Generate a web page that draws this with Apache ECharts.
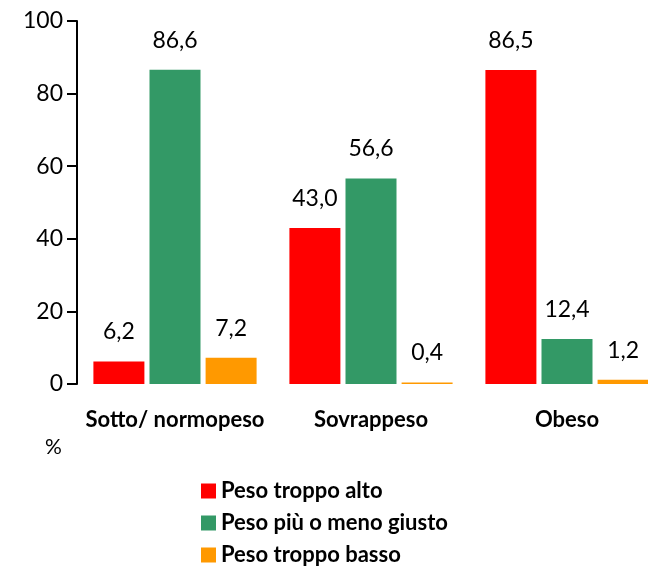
<!DOCTYPE html>
<html>
<head>
<meta charset="utf-8">
<script src="https://cdn.jsdelivr.net/npm/echarts@6/dist/echarts.min.js"></script>
<style>
  html, body { margin: 0; padding: 0; background: #fff; overflow: hidden; }
  #chart { width: 665px; height: 600px; }
</style>
</head>
<body>
<div id="chart"></div>
<script>
const categories = ['Sotto/ normopeso', 'Sovrappeso', 'Obeso'];
const seriesNames = ['Peso troppo alto', 'Peso più o meno giusto', 'Peso troppo basso'];
const tooHigh = [6.2, 43.0, 86.5];
const aboutRight = [86.6, 56.6, 12.4];
const tooLow = [7.2, 0.4, 1.2];
const yTicks = [0, 20, 40, 60, 80, 100];

const colors = ['#ff0000', '#339966', '#ff9900'];
const FONT = 'Lato';

// the plot runs past the right edge of the 648px picture, as in the original
const chart = echarts.init(document.getElementById('chart'));

function makeSeries(name, data, color) {
  return {
    name: name,
    type: 'bar',
    data: data,
    barWidth: 51,
    barGap: '10%',
    itemStyle: { color: color },
    label: {
      show: true,
      position: 'top',
      distance: 18,
      fontFamily: FONT,
      fontSize: 23,
      color: '#000',
      formatter: p => p.value.toFixed(1).replace('.', ',')
    }
  };
}

chart.setOption({
  animation: false,
  backgroundColor: '#fff',
  grid: { left: 77, right: 0, top: 21, bottom: 216, containLabel: false },
  legend: {
    orient: 'vertical',
    left: 201,
    top: 480,
    padding: 0,
    icon: 'rect',
    itemWidth: 15,
    itemHeight: 15,
    itemGap: 10,
    data: seriesNames,
    textStyle: { fontFamily: FONT, fontSize: 22, fontWeight: 'bold', color: '#000', lineHeight: 22 }
  },
  xAxis: {
    type: 'category',
    data: categories,
    axisLine: { show: false },
    axisTick: { show: false },
    axisLabel: { interval: 0, fontFamily: FONT, fontSize: 22, fontWeight: 'bold', color: '#000', margin: 25 }
  },
  yAxis: {
    type: 'value',
    min: yTicks[0],
    max: yTicks[yTicks.length - 1],
    interval: 20,
    axisLine: { show: true, lineStyle: { color: '#000', width: 2 } },
    axisTick: { show: true, length: 10, lineStyle: { color: '#000', width: 2 } },
    splitLine: { show: false },
    axisLabel: { fontFamily: FONT, fontSize: 23, color: '#000', margin: 14 }
  },
  graphic: [{
    type: 'text',
    left: 45,
    top: 437,
    style: { text: '%', fontFamily: FONT, fontSize: 21, fill: '#000' }
  }],
  series: [
    makeSeries(seriesNames[0], tooHigh, colors[0]),
    makeSeries(seriesNames[1], aboutRight, colors[1]),
    makeSeries(seriesNames[2], tooLow, colors[2])
  ]
});
</script>
</body>
</html>
